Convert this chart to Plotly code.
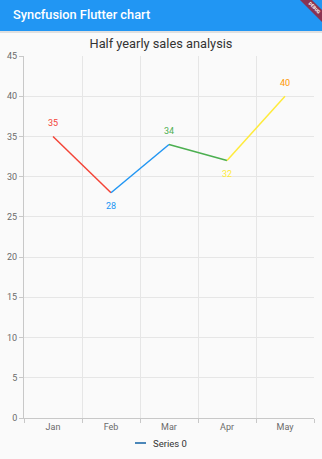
import plotly.graph_objects as go

# ---- data ----
months = ["Jan", "Feb", "Mar", "Apr", "May"]
sales = [35, 28, 34, 32, 40]
point_colors = ["#F44336", "#2196F3", "#4CAF50", "#FFEB3B", "#FF9800"]
y_ticks = [0, 5, 10, 15, 20, 25, 30, 35, 40, 45]
series_name = "Series 0"
series_color = "#4B87B9"
chart_title = "Half yearly sales analysis"
app_title = "Syncfusion Flutter chart"

W, H = 322, 459
ML, MR, MT, MB = 24, 8, 56, 41
PW, PH = W - ML - MR, H - MT - MB


def px2x(px):
    return (px - ML) / PW


def px2y(py):
    return (H - MB - py) / PH


fig = go.Figure()

# coloured segments (each segment takes the colour of its starting point)
for i in range(len(months) - 1):
    fig.add_trace(go.Scatter(
        x=[months[i], months[i + 1]], y=[sales[i], sales[i + 1]],
        mode="lines", line=dict(color=point_colors[i], width=1.5),
        showlegend=False, hoverinfo="skip"))

# data labels
annotations = []
for i, (m, v) in enumerate(zip(months, sales)):
    below = i > 0 and v < sales[i - 1]
    annotations.append(dict(
        x=m, y=v, xref="x", yref="y", text=str(v), showarrow=False,
        yshift=-13 if below else 13,
        font=dict(family="Roboto", size=9, color=point_colors[i])))

# app bar title
annotations.append(dict(
    x=px2x(11), y=px2y(15), xref="paper", yref="paper", text=app_title,
    showarrow=False, xanchor="left", yanchor="middle",
    font=dict(family="Roboto", size=12.8, color="white", weight=500)))

# legend (manual, Syncfusion style)
annotations.append(dict(
    x=px2x(151), y=px2y(443), xref="paper", yref="paper", text=series_name,
    showarrow=False, xanchor="left", yanchor="middle",
    font=dict(family="Roboto", size=9.5, color="#333333")))

# DEBUG ribbon text
annotations.append(dict(
    x=px2x(314), y=px2y(8), xref="paper", yref="paper", text="DEBUG",
    showarrow=False, textangle=45, xanchor="center", yanchor="middle",
    font=dict(family="Roboto", size=4.5, color="white", weight=700)))

shapes = [
    # app bar
    dict(type="rect", xref="paper", yref="paper", x0=px2x(0), x1=px2x(W),
         y0=px2y(31), y1=px2y(0), fillcolor="#2196F3", line=dict(width=0),
         layer="above"),
    # app bar shadow
    dict(type="rect", xref="paper", yref="paper", x0=px2x(0), x1=px2x(W),
         y0=px2y(33), y1=px2y(31), fillcolor="rgba(0,0,0,0.10)",
         line=dict(width=0), layer="above"),
    # debug ribbon
    dict(type="path", xref="paper", yref="paper",
         path="M {} {} L {} {} L {} {} L {} {} Z".format(
             px2x(300), px2y(0), px2x(312), px2y(0),
             px2x(322), px2y(10), px2x(322), px2y(22)),
         fillcolor="#8A3352", line=dict(width=0), layer="above"),
    # legend icon
    dict(type="line", xref="paper", yref="paper", x0=px2x(135), x1=px2x(146),
         y0=px2y(443), y1=px2y(443), line=dict(color=series_color, width=2)),
]

fig.update_layout(
    width=W, height=H,
    margin=dict(l=ML, r=MR, t=MT, b=MB),
    paper_bgcolor="#FAFAFA", plot_bgcolor="#FAFAFA",
    showlegend=False,
    title=dict(text=chart_title, x=0.5, xref="container", xanchor="center",
               y=1 - 44 / H, yref="container", yanchor="middle",
               font=dict(family="Roboto", size=12.8, color="#333333")),
    font=dict(family="Roboto"),
    annotations=annotations,
    shapes=shapes,
    xaxis=dict(type="category", categoryorder="array", categoryarray=months,
               range=[-0.5, len(months) - 0.5], tickson="boundaries",
               showgrid=True, gridcolor="#E6E6E6", gridwidth=1,
               ticks="outside", ticklen=4, tickcolor="#C8C8C8",
               showline=True, linecolor="#C8C8C8", linewidth=1,
               tickfont=dict(family="Roboto", size=9, color="#6A6A6A"),
               zeroline=False, mirror=False, fixedrange=True),
    yaxis=dict(range=[0, 45], tickvals=y_ticks, showgrid=True,
               gridcolor="#E6E6E6", gridwidth=1,
               ticks="outside", ticklen=4, tickcolor="#C8C8C8",
               showline=True, linecolor="#C8C8C8", linewidth=1,
               tickfont=dict(family="Roboto", size=9, color="#6A6A6A"),
               zeroline=False, fixedrange=True),
)

fig.write_html("out.html")
